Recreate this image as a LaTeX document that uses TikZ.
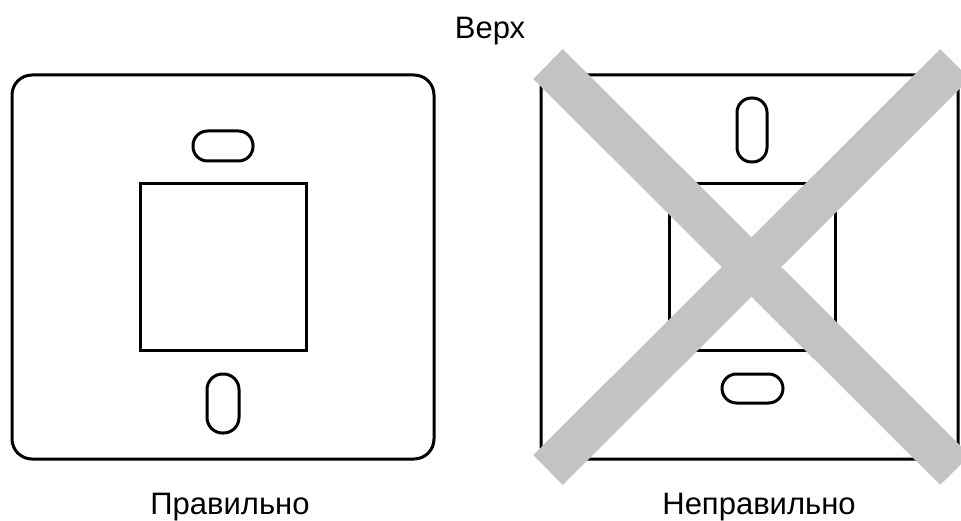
\documentclass[tikz,border=0pt]{standalone}
\usepackage{fontspec}
\setmainfont{Liberation Sans}
\definecolor{crossgray}{HTML}{C3C3C3}
\begin{document}
\begin{tikzpicture}[x=1pt,y=-1pt,
  outline/.style={draw=black,line width=3pt},
  crossbar/.style={draw=crossgray,line width=42pt},
  lbl/.style={font=\fontsize{31}{36}\selectfont,anchor=base,inner sep=0pt}]
\useasboundingbox (0,0) rectangle (961,521);
% left plate
\draw[outline,rounded corners=20pt] (12,75) rectangle (434,459);
\draw[outline] (140,184) rectangle (306,350);
\draw[outline,rounded corners=14.5pt] (193,131) rectangle (253,161);
\draw[outline,rounded corners=15.5pt] (207,374) rectangle (239,433);
% right plate
\draw[outline,rounded corners=12pt] (541,75) rectangle (958,459);
\draw[outline] (669,184) rectangle (835,350);
\draw[outline,rounded corners=14.5pt] (737,98) rectangle (767,162);
\draw[outline,rounded corners=14.5pt] (722,374) rectangle (783,403);
% cross
\coordinate (tl) at (548,64);
\coordinate (br) at (955,470);
\coordinate (bl) at (548,470);
\coordinate (tr) at (955,64);
\draw[crossbar] (tl) -- (br);
\draw[crossbar] (bl) -- (tr);
% labels
\node[lbl] (top) at (490,39) {Верх};
\node[lbl] (ok) at (230,514) {Правильно};
\node[lbl] (bad) at (759,514) {Неправильно};
\end{tikzpicture}
\end{document}
